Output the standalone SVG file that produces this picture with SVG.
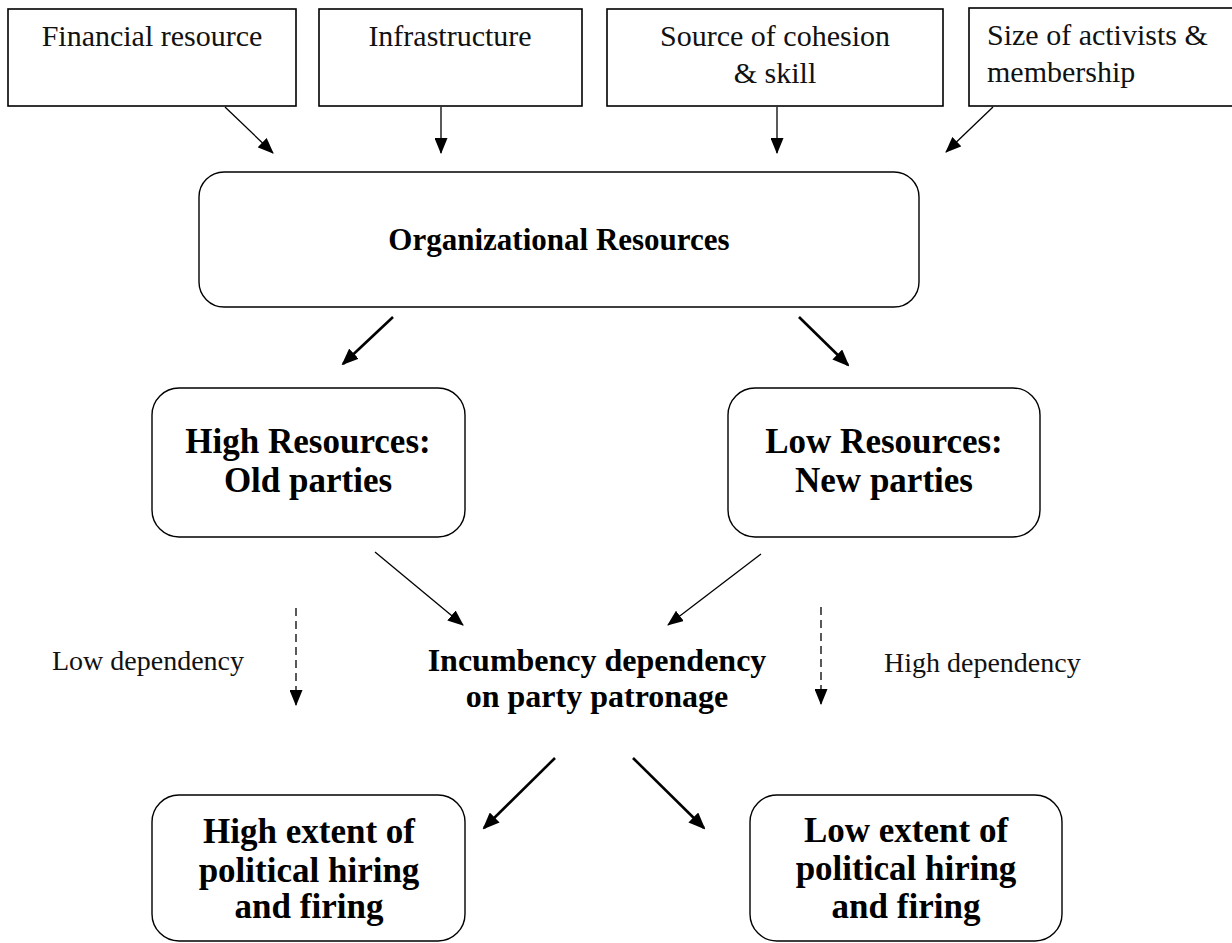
<svg xmlns="http://www.w3.org/2000/svg" width="1232" height="943" viewBox="0 0 1232 943">
<style>
.box{fill:#fff;stroke:#000;stroke-width:1.6}
.rbox{fill:#fff;stroke:#000;stroke-width:1.4}
.t{font-family:"Liberation Serif","Times New Roman",serif;font-size:30px;fill:#111}
.d{font-family:"Liberation Serif","Times New Roman",serif;font-size:28px;fill:#111}
.b{font-family:"Liberation Serif","Times New Roman",serif;font-weight:bold;fill:#000}
.thin{stroke:#000;stroke-width:1.3;fill:none;marker-end:url(#ah)}
.thick{stroke:#000;stroke-width:2.6;fill:none;marker-end:url(#ah2)}
.dash{stroke:#000;stroke-width:1.3;fill:none;stroke-dasharray:8 5;marker-end:url(#ah)}
</style>
<defs>
<marker id="ah" viewBox="0 0 16 13" refX="15" refY="6.5" markerWidth="16" markerHeight="13" orient="auto" markerUnits="userSpaceOnUse"><path d="M0,0 L16,6.5 L0,13 z" fill="#000"/></marker>
<marker id="ah2" viewBox="0 0 17 14" refX="15" refY="7" markerWidth="17" markerHeight="14" orient="auto" markerUnits="userSpaceOnUse"><path d="M0,0 L17,7 L0,14 z" fill="#000"/></marker>
</defs>
<rect width="1232" height="943" fill="#fff"/>
<g id="financial"><rect class="box" x="8" y="9" width="288" height="97"/><text class="t" x="152" y="46" text-anchor="middle">Financial resource</text></g>
<g id="infrastructure"><rect class="box" x="319" y="9" width="263" height="97"/><text class="t" x="450" y="46" text-anchor="middle">Infrastructure</text></g>
<g id="cohesion"><rect class="box" x="607" y="9" width="336" height="97"/><text class="t" x="775" y="46" text-anchor="middle">Source of cohesion</text><text class="t" x="775" y="83" text-anchor="middle">&amp; skill</text></g>
<g id="activists"><rect class="box" x="969" y="8" width="280" height="98"/><text class="t" x="987" y="45" text-anchor="start">Size of activists &amp;</text><text class="t" x="987" y="82" text-anchor="start">membership</text></g>
<g id="org"><rect class="rbox" x="199" y="172" width="720" height="135" rx="25" ry="25"/><text class="b" x="559" y="250" font-size="31" text-anchor="middle">Organizational Resources</text></g>
<g id="high-res"><rect class="rbox" x="152" y="388" width="313" height="149" rx="27" ry="27"/><text class="b" x="308" y="453" font-size="35" text-anchor="middle">High Resources:</text><text class="b" x="308" y="492" font-size="35" text-anchor="middle">Old parties</text></g>
<g id="low-res"><rect class="rbox" x="728" y="388" width="312" height="149" rx="27" ry="27"/><text class="b" x="884" y="453" font-size="35" text-anchor="middle">Low Resources:</text><text class="b" x="884" y="492" font-size="35" text-anchor="middle">New parties</text></g>
<g id="incumbency"><text class="b" x="597" y="671" font-size="32" text-anchor="middle">Incumbency dependency</text><text class="b" x="597" y="707" font-size="32" text-anchor="middle">on party patronage</text></g>
<g id="low-dep"><text class="d" x="52" y="670">Low dependency</text></g>
<g id="high-dep"><text class="d" x="884" y="672">High dependency</text></g>
<g id="high-ext"><rect class="rbox" x="152" y="795" width="313" height="146" rx="27" ry="27"/><text class="b" x="309" y="843" font-size="35" text-anchor="middle">High extent of</text><text class="b" x="309" y="882" font-size="35" text-anchor="middle">political hiring</text><text class="b" x="309" y="918" font-size="35" text-anchor="middle">and firing</text></g>
<g id="low-ext"><rect class="rbox" x="750" y="795" width="312" height="146" rx="27" ry="27"/><text class="b" x="906" y="842" font-size="35" text-anchor="middle">Low extent of</text><text class="b" x="906" y="880" font-size="35" text-anchor="middle">political hiring</text><text class="b" x="906" y="918" font-size="35" text-anchor="middle">and firing</text></g>
<g id="connectors">
<line class="thin" x1="225" y1="107" x2="273" y2="153"/>
<line class="thin" x1="441" y1="107" x2="441" y2="153"/>
<line class="thin" x1="777" y1="107" x2="777" y2="153"/>
<line class="thin" x1="993" y1="107" x2="946" y2="152"/>
<line class="thick" x1="393" y1="317" x2="343" y2="364"/>
<line class="thick" x1="799" y1="317" x2="848" y2="365"/>
<line class="thin" x1="375" y1="552" x2="463" y2="625"/>
<line class="thin" x1="761" y1="554" x2="668" y2="625"/>
<line class="dash" x1="296" y1="608" x2="296" y2="705"/>
<line class="dash" x1="821" y1="607" x2="821" y2="704"/>
<line class="thick" x1="555" y1="758" x2="484" y2="828"/>
<line class="thick" x1="633" y1="758" x2="704" y2="828"/>
</g>
</svg>
